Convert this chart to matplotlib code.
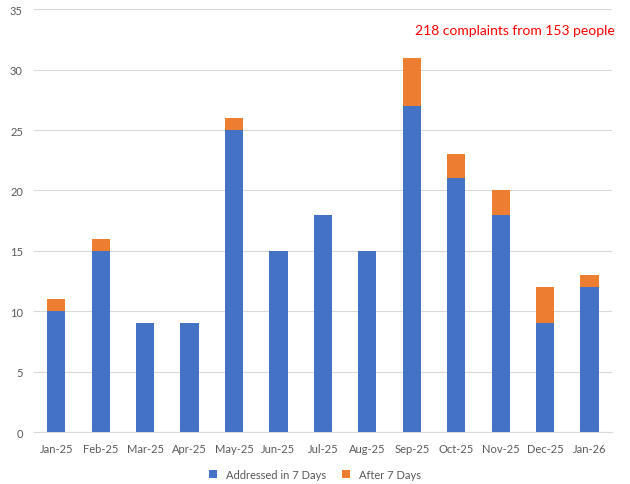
import matplotlib.pyplot as plt

plt.rcParams['font.family'] = ['Lato', 'DejaVu Sans']

months = ["Jan-25", "Feb-25", "Mar-25", "Apr-25", "May-25", "Jun-25", "Jul-25",
          "Aug-25", "Sep-25", "Oct-25", "Nov-25", "Dec-25", "Jan-26"]
within_7 = [10, 15, 9, 9, 25, 15, 18, 15, 27, 21, 18, 9, 12]
after_7 = [1, 1, 0, 0, 1, 0, 0, 0, 4, 2, 2, 3, 1]

blue = "#4472C4"
orange = "#ED7D31"
grey = "#595959"

fig = plt.figure(figsize=(6.3, 4.85), dpi=100)
ax = fig.add_axes([0.054, 0.107, 0.917, 0.872])

x = range(len(months))
ax.bar(x, within_7, width=0.41, color=blue, label="Addressed in 7 Days", zorder=3)
ax.bar(x, after_7, width=0.41, bottom=within_7, color=orange, label="After 7 Days", zorder=3)

ax.set_xlim(-0.5, len(months) - 0.5)
ax.set_ylim(0, 35)
ax.set_yticks(range(0, 36, 5))
ax.set_xticks(list(x))
ax.set_xticklabels(months)
ax.yaxis.grid(True, color="#D9D9D9", linewidth=0.8, zorder=0)
ax.tick_params(axis="both", length=0, labelsize=8, colors=grey, pad=8)
for side in ["top", "right", "left"]:
    ax.spines[side].set_visible(False)
ax.spines["bottom"].set_color("#D9D9D9")

ax.text(1.006, 0.950, "218 complaints from 153 people", transform=ax.transAxes,
        ha="right", va="center", color="#FF0000", fontsize=10, clip_on=False)

fig.legend(loc="lower center", bbox_to_anchor=(0.5, -0.012), ncol=2, frameon=False,
           fontsize=8, handlelength=0.7, handleheight=0.7, columnspacing=1.5,
           labelcolor=grey)

fig.savefig("out.png", dpi=100)
